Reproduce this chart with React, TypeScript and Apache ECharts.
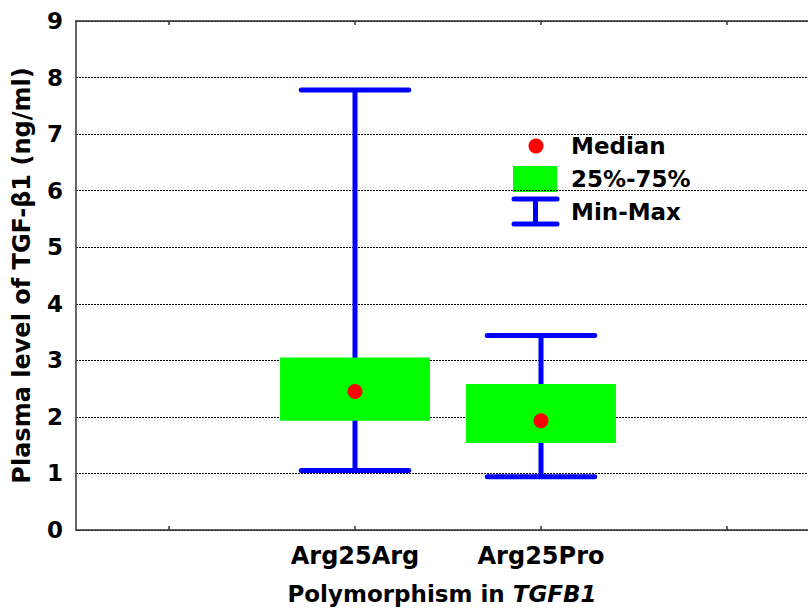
import React, { useEffect, useRef } from "react";
import * as echarts from "echarts";

const categories = ["Arg25Arg", "Arg25Pro"];
const minValues = [1.05, 0.94];
const q1Values = [1.93, 1.54];
const medianValues = [2.45, 1.93];
const q3Values = [3.05, 2.58];
const maxValues = [7.78, 3.44];
const xTickValues = [1, 2, 3, 4];
const categoryPositions = [2, 3];
const legendLabels = ["Median", "25%-75%", "Min-Max"];

const FONT = "DejaVu Sans";
const BLUE = "#0000ff";
const GREEN = "#00ff00";
const RED = "#ff0000";

export default function App() {
  const ref = useRef<HTMLDivElement>(null);
  useEffect(() => {
    document.body.style.margin = "0";
    const chart = echarts.init(ref.current!, null, { renderer: "svg" });
    const gridLeft = 76;
    const unitPx = 186;
    const xMin = 0.5;
    const xMax = xMin + (808 - gridLeft) / unitPx;

    const boxData = categories.map((c, i) => [
      categoryPositions[i],
      minValues[i],
      q1Values[i],
      q3Values[i],
      maxValues[i],
    ]);
    const medianData = categories.map((c, i) => [categoryPositions[i], medianValues[i]]);

    const axisLineStyle = { color: "#333", width: 1.5 };

    const option: any = {
      animation: false,
      backgroundColor: "#fff",
      grid: { left: gridLeft, right: 0, top: 21, bottom: 81, containLabel: false, outerBoundsMode: "none" },
      xAxis: [
        {
          type: "value",
          position: "bottom",
          min: xMin,
          max: xMax,
          splitLine: { show: false },
          axisLine: { show: true, onZero: false, lineStyle: axisLineStyle },
          axisTick: { show: true, inside: true, length: 4, customValues: xTickValues, lineStyle: axisLineStyle },
          axisLabel: {
            show: true,
            customValues: categoryPositions,
            formatter: (v: number) => categories[categoryPositions.indexOf(Math.round(v))] ?? "",
            fontFamily: FONT,
            fontWeight: "bold",
            fontSize: 24,
            color: "#000",
            margin: 14,
          },
          name: "{a|Polymorphism in }{b|TGFB1}",
          nameLocation: "middle",
          nameGap: 52,
          nameTextStyle: {
            rich: {
              a: { fontFamily: FONT, fontWeight: "bold", fontSize: 23, color: "#000" },
              b: { fontFamily: FONT, fontWeight: "bold", fontStyle: "italic", fontSize: 23, color: "#000" },
            },
          },
        },
        {
          type: "value",
          position: "top",
          min: xMin,
          max: xMax,
          splitLine: { show: false },
          axisLine: { show: true, onZero: false, lineStyle: axisLineStyle },
          axisTick: { show: true, inside: true, length: 4, customValues: xTickValues, lineStyle: axisLineStyle },
          axisLabel: { show: false },
        },
      ],
      yAxis: {
        type: "value",
        min: 0,
        max: 9,
        interval: 1,
        axisLine: { show: true, lineStyle: axisLineStyle },
        axisTick: { show: false },
        axisLabel: {
          fontFamily: FONT,
          fontWeight: "bold",
          fontSize: 23,
          color: "#000",
          margin: 13,
        },
        splitLine: { show: true, lineStyle: { type: [2, 1], color: "#000", width: 1 } },
        name: "Plasma level of TGF-β1 (ng/ml)",
        nameLocation: "middle",
        nameGap: 42,
        nameTextStyle: { fontFamily: FONT, fontWeight: "bold", fontSize: 24, color: "#000" },
      },
      series: [
        {
          type: "custom",
          name: "Min-Max",
          xAxisIndex: 0,
          data: boxData,
          encode: { x: 0, y: [1, 2, 3, 4] },
          z: 2,
          renderItem: (params: any, api: any) => {
            const x = api.value(0);
            const pMin = api.coord([x, api.value(1)]);
            const pQ1 = api.coord([x, api.value(2)]);
            const pQ3 = api.coord([x, api.value(3)]);
            const pMax = api.coord([x, api.value(4)]);
            const unit = api.size([1, 0])[0];
            const boxW = unit * 0.806;
            const capW = unit * 0.578;
            const lineStyle = { stroke: BLUE, lineWidth: 5, lineCap: "round" };
            return {
              type: "group",
              children: [
                { type: "line", shape: { x1: pMin[0], y1: pMin[1], x2: pMax[0], y2: pMax[1] }, style: { stroke: BLUE, lineWidth: 5 } },
                { type: "line", shape: { x1: pMin[0] - capW / 2, y1: pMin[1], x2: pMin[0] + capW / 2, y2: pMin[1] }, style: lineStyle },
                { type: "line", shape: { x1: pMax[0] - capW / 2, y1: pMax[1], x2: pMax[0] + capW / 2, y2: pMax[1] }, style: lineStyle },
                { type: "rect", shape: { x: pQ3[0] - boxW / 2, y: pQ3[1], width: boxW, height: pQ1[1] - pQ3[1] }, style: { fill: GREEN } },
              ],
            };
          },
        },
        {
          type: "scatter",
          name: "Median",
          data: medianData,
          symbol: "circle",
          symbolSize: 15,
          itemStyle: { color: RED, opacity: 1 },
          z: 3,
        },
      ],
      graphic: [
        { type: "circle", shape: { cx: 536, cy: 146, r: 7.5 }, style: { fill: RED } },
        { type: "rect", shape: { x: 513, y: 166, width: 44, height: 26 }, style: { fill: GREEN } },
        { type: "line", shape: { x1: 514, y1: 199, x2: 557, y2: 199 }, style: { stroke: BLUE, lineWidth: 5, lineCap: "round" } },
        { type: "line", shape: { x1: 514, y1: 224, x2: 557, y2: 224 }, style: { stroke: BLUE, lineWidth: 5, lineCap: "round" } },
        { type: "line", shape: { x1: 535.5, y1: 199, x2: 535.5, y2: 224 }, style: { stroke: BLUE, lineWidth: 5 } },
        ...legendLabels.map((t, i) => ({
          type: "text",
          x: 571,
          y: [146, 179, 212][i],
          style: {
            text: t,
            fontFamily: FONT,
            fontWeight: "bold",
            fontSize: 23,
            fill: "#000",
            verticalAlign: "middle",
            align: "left",
          },
        })),
      ],
    };
    chart.setOption(option);
    return () => chart.dispose();
  }, []);
  return <div ref={ref} style={{ position: "absolute", left: 0, top: 0, width: 808, height: 611 }} />;
}
